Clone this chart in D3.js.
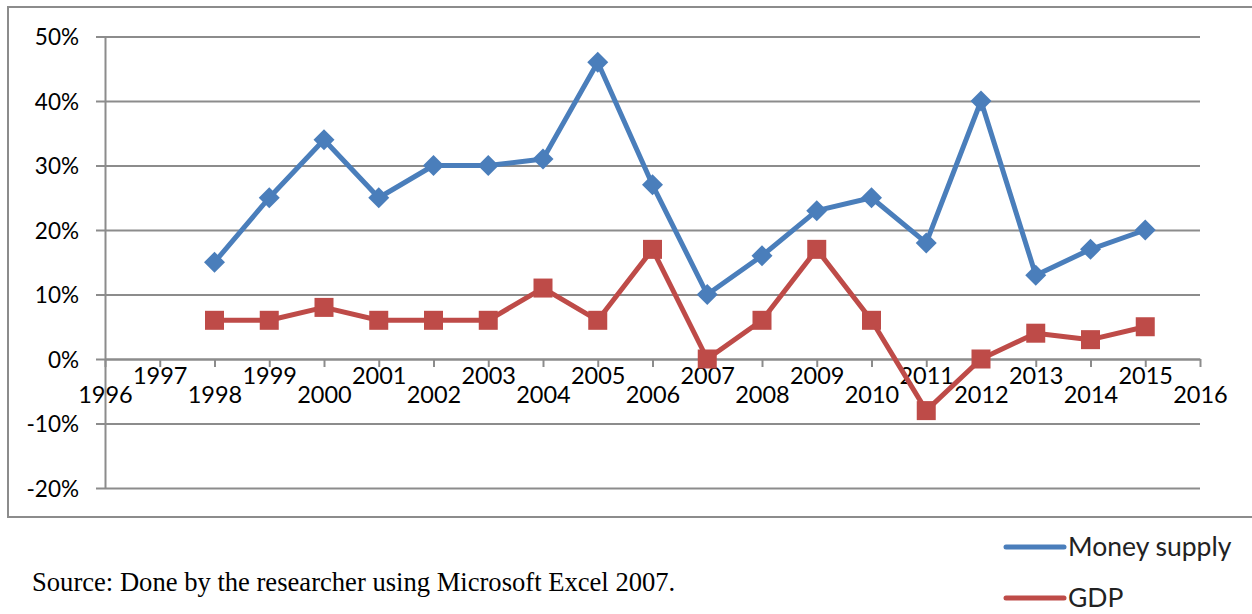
<!DOCTYPE html>
<html>
<head>
<meta charset="utf-8">
<script src="https://cdn.jsdelivr.net/npm/d3@7"></script>
<style>
  html, body { margin: 0; padding: 0; background: #fff; }
  svg { display: block; }
</style>
</head>
<body>
<svg id="chart" width="1252" height="614"></svg>
<script>
// Annual growth rates, 1998–2015
const years = [1998, 1999, 2000, 2001, 2002, 2003, 2004, 2005, 2006,
               2007, 2008, 2009, 2010, 2011, 2012, 2013, 2014, 2015];
const moneySupply = [0.15, 0.25, 0.34, 0.25, 0.30, 0.30, 0.31, 0.46, 0.27,
                     0.10, 0.16, 0.23, 0.25, 0.18, 0.40, 0.13, 0.17, 0.20];
const gdp = [0.06, 0.06, 0.08, 0.06, 0.06, 0.06, 0.11, 0.06, 0.17,
             0.00, 0.06, 0.17, 0.06, -0.08, 0.00, 0.04, 0.03, 0.05];
const xTicks = d3.range(1996, 2017);
const yTicks = [-0.2, -0.1, 0, 0.1, 0.2, 0.3, 0.4, 0.5];
const seriesNames = ["Money supply", "GDP"];
const sourceNote = "Source: Done by the researcher using Microsoft Excel 2007.";

const BLUE = "#4a7ebb", RED = "#be4b48", GRID = "#8c8c8c";
const uiFont = "Lato, 'Open Sans', sans-serif";

const svg = d3.select("#chart");

// chart frame
svg.append("rect")
  .attr("x", 8).attr("y", 7).attr("width", 1260).attr("height", 510)
  .attr("fill", "none").attr("stroke", GRID).attr("stroke-width", 2);

const x = d3.scaleLinear().domain([1996, 2016]).range([105, 1200]);
const y = d3.scaleLinear().domain([-0.2, 0.5]).range([488, 36.5]);

// percent labels with a plain hyphen for negatives
const pct = d => Math.round(d * 100) + "%";

// horizontal gridlines with outward ticks on the value axis
const yAxis = d3.axisLeft(y).tickValues(yTicks)
  .tickFormat(pct)
  .tickSize(-(1200 - 105)).tickSizeOuter(0).tickPadding(26);
const gy = svg.append("g").attr("transform", "translate(105,0)").call(yAxis);
gy.select(".domain").attr("stroke", GRID).attr("stroke-width", 2);
gy.selectAll(".tick line").attr("stroke", GRID).attr("stroke-width", 2).attr("x1", -9);
gy.selectAll(".tick text")
  .attr("font-family", uiFont).attr("font-size", 22.5).attr("fill", "#000")
  .attr("dy", "0.36em");

// year axis crossing at 0%, labels staggered in two rows
const xAxis = d3.axisBottom(x).tickValues(xTicks).tickFormat(d3.format("d"))
  .tickSize(8).tickSizeOuter(0);
const gx = svg.append("g").attr("transform", `translate(0,${y(0)})`).call(xAxis);
gx.select(".domain").attr("stroke", GRID).attr("stroke-width", 2);
gx.selectAll(".tick line").attr("stroke", GRID).attr("stroke-width", 2);
gx.selectAll(".tick text")
  .attr("font-family", uiFont).attr("font-size", 23.5).attr("fill", "#000")
  .attr("y", d => (d % 2 === 0 ? 44 : 25)).attr("dy", 0);

const line = d3.line().x((d, i) => x(years[i])).y(d => y(d));

// GDP series: squares
svg.append("path").datum(gdp)
  .attr("d", line).attr("fill", "none").attr("stroke", RED)
  .attr("stroke-width", 5).attr("stroke-linejoin", "round");
const sq = 19;
svg.append("g").selectAll("rect").data(gdp).join("rect")
  .attr("x", (d, i) => x(years[i]) - sq / 2)
  .attr("y", d => y(d) - sq / 2)
  .attr("width", sq).attr("height", sq).attr("fill", RED);

// Money supply series: diamonds
svg.append("path").datum(moneySupply)
  .attr("d", line).attr("fill", "none").attr("stroke", BLUE)
  .attr("stroke-width", 5).attr("stroke-linejoin", "round");
const dm = 10.5;
svg.append("g").selectAll("path").data(moneySupply).join("path")
  .attr("transform", (d, i) => `translate(${x(years[i])},${y(d)})`)
  .attr("d", `M0,${-dm}L${dm},0L0,${dm}L${-dm},0Z`)
  .attr("fill", BLUE);

// legend
const legend = svg.append("g");
[BLUE, RED].forEach((c, i) => {
  const ly = 547 + i * 51;
  legend.append("line")
    .attr("x1", 1006).attr("x2", 1064).attr("y1", ly).attr("y2", ly)
    .attr("stroke", c).attr("stroke-width", 5).attr("stroke-linecap", "round");
  legend.append("text")
    .attr("x", 1068).attr("y", ly).attr("dy", "0.34em")
    .attr("font-family", uiFont).attr("font-size", 26.5).attr("fill", "#222")
    .text(seriesNames[i]);
});

// source note
svg.append("text")
  .attr("x", 32).attr("y", 591)
  .attr("font-family", "'Liberation Serif', 'Times New Roman', serif")
  .attr("font-size", 26.6).attr("fill", "#000")
  .text(sourceNote);
</script>
</body>
</html>
